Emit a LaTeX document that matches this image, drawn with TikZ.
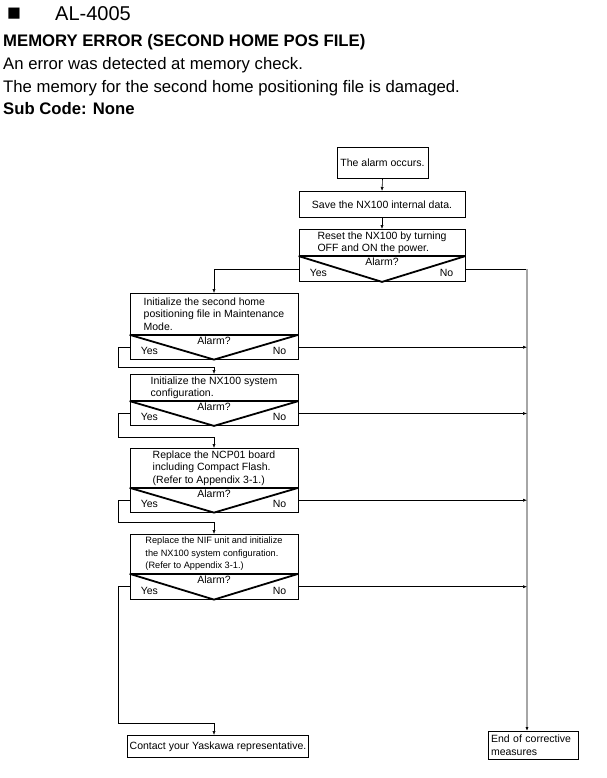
\documentclass[tikz,border=0pt]{standalone}
\usepackage{fontspec}
\setmainfont{Liberation Sans}
\usetikzlibrary{arrows.meta}
\newcommand{\flowfont}{\fontsize{10.5pt}{12.5pt}\selectfont}
\begin{document}
\begin{tikzpicture}[x=1pt,y=-1pt,
  caixa/.style={draw,line width=0.8pt,font=\flowfont,align=left,inner sep=2pt,anchor=north},
  alarme/.style={draw,line width=0.8pt,minimum width=168pt,minimum height=24pt,inner sep=0pt,anchor=north},
  rotulo/.style={font=\flowfont,inner sep=0pt},
  vee/.style={line width=1.8pt},
  liga/.style={line width=0.6pt},
  seta/.style={line width=0.6pt,-{Latex[length=4pt,width=3.2pt,color=black]}}]
  \useasboundingbox (0,0) rectangle (606,778);

  % cabecalho
  \node[anchor=base west,inner sep=0pt,font=\fontsize{23pt}{24pt}\selectfont] (quad) at (7,21) {■};
  \node[anchor=base west,inner sep=0pt,font=\fontsize{20pt}{24pt}\selectfont] (codigo) at (55,21) {AL-4005};
  \node[anchor=base west,inner sep=0pt,font=\bfseries\fontsize{16.7pt}{20pt}\selectfont] (titulo) at (3,47) {MEMORY ERROR (SECOND HOME POS FILE)};
  \node[anchor=base west,inner sep=0pt,font=\fontsize{16.7pt}{20pt}\selectfont] (linha1) at (3,70) {An error was detected at memory check.};
  \node[anchor=base west,inner sep=0pt,font=\fontsize{16.7pt}{20pt}\selectfont] (linha2) at (3,93) {The memory for the second home positioning file is damaged.};
  \node[anchor=base west,inner sep=0pt,font=\bfseries\fontsize{16.7pt}{20pt}\selectfont] (subcod) at (3,115) {Sub Code: None};

  \coordinate (trilho) at (527,0);
  \coordinate (k4) at (118,367);
  \coordinate (k5) at (118,437);
  \coordinate (k6) at (118,522);
  \coordinate (k7) at (118,723);

  % caixas do fluxograma
  \node[caixa,minimum width=91pt,minimum height=31pt] (b1) at (382.5,147) {The alarm occurs.};
  \node[caixa,minimum width=166pt,minimum height=26pt] (b2) at (382,191) {Save the NX100 internal data.};
  \node[caixa,minimum width=166pt,minimum height=26pt] (b3) at (382,229) {Reset the NX100 by turning\\OFF and ON the power.};
  \node[alarme,minimum width=166pt,minimum height=25pt] (a3) at (b3.south) {};
  \node[caixa,minimum width=168pt,minimum height=41pt] (b4) at (214,293) {Initialize the second home\\positioning file in Maintenance\\Mode.};
  \node[alarme] (a4) at (b4.south) {};
  \node[caixa,minimum width=168pt,minimum height=26pt] (b5) at (214,374) {Initialize the NX100 system\\configuration.};
  \node[alarme] (a5) at (b5.south) {};
  \node[caixa,minimum width=168pt,minimum height=39pt] (b6) at (214,448) {Replace the NCP01 board\\including Compact Flash.\\(Refer to Appendix 3-1.)};
  \node[alarme] (a6) at (b6.south) {};
  \node[caixa,minimum width=168pt,minimum height=39pt,font=\fontsize{9.2pt}{12.3pt}\selectfont] (b7) at (214,534) {Replace the NIF unit and initialize\\the NX100 system configuration.\\(Refer to Appendix 3-1.)};
  \node[alarme,minimum height=25pt] (a7) at (b7.south) {};
  \node[caixa,minimum width=176pt,minimum height=22pt] (contato) at (218,735) {Contact your Yaskawa representative.};
  \node[caixa,minimum width=90pt,minimum height=28pt,text width=84pt] (fim) at (533,731) {End of corrective\\measures};

  % decisoes
  \foreach \a in {a3,a4,a5,a6,a7}{
    \draw[vee] (\a.north west) -- (\a.south) -- (\a.north east);
    \node[rotulo,anchor=north] (\a q) at ([yshift=-2pt]\a.north) {Alarm?};
    \node[rotulo,anchor=base west] (\a s) at ([xshift=11pt,yshift=5pt]\a.south west) {Yes};
    \node[rotulo,anchor=base east] (\a n) at ([xshift=-12pt,yshift=5pt]\a.south east) {No};
  }

  % ligacoes
  \draw[seta] (b1.south) -- (b2.north);
  \draw[seta] (b2.south) -- (b3.north);
  \draw[seta] (a3.west) -| (b4.north);
  \draw[liga] (a3.east) -- (a3.east -| trilho);
  \draw[seta,draw=black!35,line width=1.2pt] (a3.east -| trilho) -- (trilho |- fim.north);
  \draw[seta] (a4.west) -| (k4) -| (b5.north);
  \draw[seta] (a5.west) -| (k5) -| (b6.north);
  \draw[seta] (a6.west) -| (k6) -| (b7.north);
  \draw[seta] (a7.west) -| (k7) -| (b7.south |- contato.north);
  \foreach \a in {a4,a5,a6,a7}
    \draw[seta] (\a.east) -- (\a.east -| trilho);
\end{tikzpicture}
\end{document}
